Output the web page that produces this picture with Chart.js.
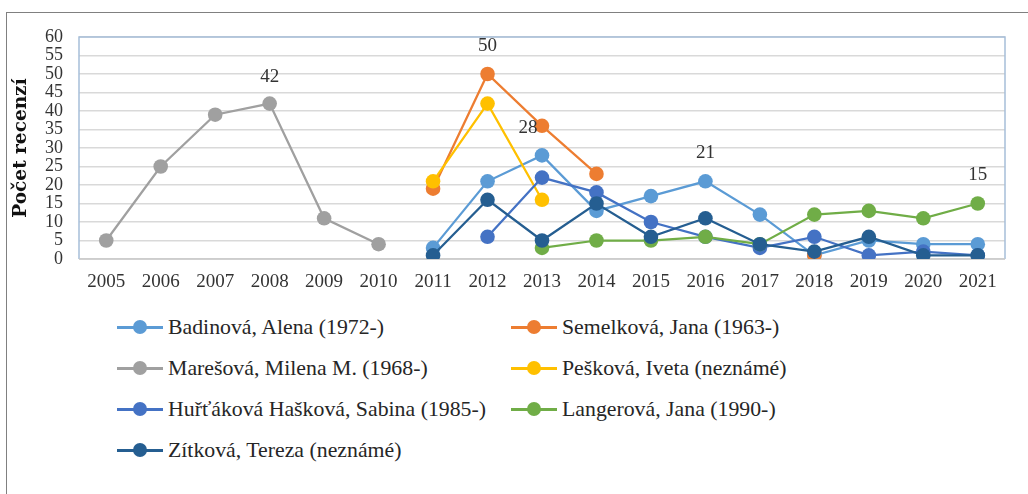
<!DOCTYPE html>
<html>
<head>
<meta charset="utf-8">
<script src="https://cdn.jsdelivr.net/npm/chart.js@4.4.0/dist/chart.umd.min.js"></script>
<style>
  html, body { margin: 0; padding: 0; background: #fff; }
  #wrap { position: relative; width: 1028px; height: 494px; overflow: hidden; }
  #frame { position: absolute; left: 6px; top: 12px; right: -2px; bottom: -2px; border-left: 1.5px solid #808080; border-top: 1.5px solid #808080; }
  #cv { position: absolute; left: 0; top: 0; }
  .lg { position: absolute; height: 24px; display: flex; align-items: center; font: 21.8px "Liberation Serif", serif; color: #262626; white-space: nowrap; }
  .mk { position: relative; width: 46px; height: 24px; margin-right: 5px; }
  .mk i { position: absolute; left: 0; right: 0; top: 11px; height: 2.5px; }
  .mk b { position: absolute; left: 16px; top: 5px; width: 14px; height: 14px; border-radius: 50%; }
</style>
</head>
<body>
<div id="wrap">
  <div id="frame"></div>
  <canvas id="cv" width="1028" height="300"></canvas>
  <div id="legend"></div>
</div>
<script>
// Počet recenzí podle recenzentek, 2005–2021
const years = ['2005', '2006', '2007', '2008', '2009', '2010', '2011', '2012', '2013', '2014', '2015', '2016', '2017', '2018', '2019', '2020', '2021'];
const names = ['Badinová, Alena (1972-)', 'Semelková, Jana (1963-)', 'Marešová, Milena M. (1968-)', 'Pešková, Iveta (neznámé)',
  'Huřťáková Hašková, Sabina (1985-)', 'Langerová, Jana (1990-)', 'Zítková, Tereza (neznámé)'];
const colors = ['#5B9BD5', '#ED7D31', '#A0A0A0', '#FFC000', '#4472C4', '#70AD47', '#255E91'];
const badinova = [null, null, null, null, null, null, 3, 21, 28, 13, 17, 21, 12, 1, 5, 4, 4];
const semelkova = [null, null, null, null, null, null, 19, 50, 36, 23, null, null, null, 1, null, null, null];
const maresova = [5, 25, 39, 42, 11, 4, null, null, null, null, null, null, null, null, null, null, null];
const peskova = [null, null, null, null, null, null, 21, 42, 16, null, null, null, null, null, null, null, null];
const hurtakova = [null, null, null, null, null, null, null, 6, 22, 18, 10, 6, 3, 6, 1, 2, 1];
const langerova = [null, null, null, null, null, null, null, null, 3, 5, 5, 6, 4, 12, 13, 11, 15];
const zitkova = [null, null, null, null, null, null, 1, 16, 5, 15, 6, 11, 4, 2, 6, 1, 1];
const yTicks = [0, 5, 10, 15, 20, 25, 30, 35, 40, 45, 50, 55, 60];
// popisky hodnot: [řada, index roku]
const valueLabels = [[2, 3], [1, 7], [0, 8], [0, 11], [5, 16]];

const series = [badinova, semelkova, maresova, peskova, hurtakova, langerova, zitkova];
const datasets = series.map((d, i) => ({
  label: names[i], data: d, borderColor: colors[i], backgroundColor: colors[i],
  borderWidth: 2.25, pointRadius: 7.3, pointHoverRadius: 7.3, pointBorderWidth: 0,
  tension: 0, spanGaps: false, order: series.length - i
}));

const areaBorder = {
  id: 'areaBorder',
  beforeDatasetsDraw(c) {
    const a = c.chartArea, ctx = c.ctx;
    ctx.save(); ctx.strokeStyle = '#A7BFD9'; ctx.lineWidth = 1.5;
    ctx.beginPath(); ctx.moveTo(a.left, a.bottom); ctx.lineTo(a.left, a.top); ctx.lineTo(a.right, a.top); ctx.lineTo(a.right, a.bottom); ctx.stroke();
    ctx.strokeStyle = '#C8C8C8'; ctx.beginPath(); ctx.moveTo(a.left, a.bottom); ctx.lineTo(a.right, a.bottom); ctx.stroke();
    ctx.restore();
  }
};
const offsets = [[0, -27], [0, -28], [-14, -27], [0, -28], [0, -28.5]];
const valLabels = {
  id: 'valLabels',
  afterDatasetsDraw(c) {
    const ctx = c.ctx;
    ctx.save(); ctx.font = '19px "Liberation Serif", serif'; ctx.fillStyle = '#333';
    ctx.textAlign = 'center'; ctx.textBaseline = 'middle';
    valueLabels.forEach(([s, i], k) => {
      const v = series[s][i];
      const x = c.scales.x.getPixelForValue(i), y = c.scales.y.getPixelForValue(v);
      ctx.fillText(String(v), x + offsets[k][0], y + offsets[k][1]);
    });
    ctx.restore();
  }
};

const chart = new Chart(document.getElementById('cv'), {
  type: 'line',
  data: { labels: years, datasets },
  options: {
    responsive: false, animation: false, events: [],
    layout: { padding: { left: 0, right: 23, top: 37, bottom: 0 } },
    plugins: { legend: { display: false }, tooltip: { enabled: false } },
    scales: {
      x: {
        offset: true,
        grid: { display: false, drawTicks: false },
        border: { display: false },
        ticks: { padding: 12, color: '#333', font: { family: 'Liberation Serif', size: 19 }, maxRotation: 0, autoSkip: false },
        afterFit: (s) => { s.height = 41; }
      },
      y: {
        min: 0, max: 60,
        afterBuildTicks: (s) => { s.ticks = yTicks.map((v) => ({ value: v })); },
        grid: { color: '#D9D9D9', lineWidth: 1.6, drawTicks: false },
        border: { display: false },
        ticks: { padding: 16, color: '#333', autoSkip: false, font: { family: 'Liberation Serif', size: 18, lineHeight: 1 } },
        title: { display: true, text: 'Počet recenzí', color: '#111', padding: { top: 10, bottom: 0 }, font: { family: 'DejaVu Serif', size: 18.5, weight: 'bold' } },
        afterFit: (s) => { s.width = 79; }
      }
    }
  },
  plugins: [areaBorder, valLabels]
});

// legenda ve dvou sloupcích
const lg = document.getElementById('legend');
lg.innerHTML = chart.data.datasets.map((d, i) => {
  const col = i % 2, row = Math.floor(i / 2);
  return `<div class="lg" style="left:${117 + col * 394}px;top:${315 + row * 41}px">` +
    `<span class="mk"><i style="background:${d.borderColor}"></i><b style="background:${d.backgroundColor}"></b></span>${d.label}</div>`;
}).join('');
</script>
</body>
</html>
